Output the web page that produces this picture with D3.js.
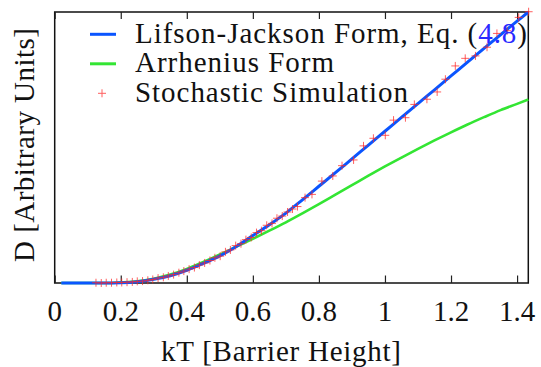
<!DOCTYPE html>
<html><head><meta charset="utf-8">
<script src="https://cdn.jsdelivr.net/npm/d3@7"></script>
<style>body{margin:0;background:#fff;}</style>
</head><body>
<svg id="c" width="541" height="367"></svg>
<script>
// ---- data ----
const kT = [0.02, 0.1, 0.15, 0.2, 0.25, 0.3, 0.35, 0.4, 0.45, 0.5, 0.55, 0.6, 0.65, 0.7, 0.75, 0.8, 0.85, 0.9, 0.95, 1.0, 1.05, 1.1, 1.15, 1.2, 1.25, 1.3, 1.35, 1.4, 1.434];
const lifsonJackson = [0, 0, 0, 0.001, 0.005, 0.014, 0.027, 0.047, 0.072, 0.100, 0.135, 0.175, 0.215, 0.258, 0.307, 0.357, 0.407, 0.458, 0.509, 0.560, 0.611, 0.662, 0.713, 0.764, 0.815, 0.866, 0.916, 0.966, 1.0];
const arrhenius = [0, 0, 0, 0.002, 0.006, 0.016, 0.031, 0.052, 0.078, 0.105, 0.134, 0.163, 0.193, 0.224, 0.257, 0.291, 0.326, 0.361, 0.396, 0.430, 0.463, 0.495, 0.526, 0.556, 0.585, 0.612, 0.638, 0.661, 0.677];
const simKT = [0.125, 0.141, 0.156, 0.172, 0.188, 0.203, 0.219, 0.235, 0.250, 0.266, 0.282, 0.297, 0.313, 0.329, 0.344, 0.360, 0.376, 0.391, 0.407, 0.423, 0.438, 0.454, 0.470, 0.485, 0.501, 0.517, 0.532, 0.548, 0.564, 0.579, 0.595, 0.611, 0.626, 0.642, 0.658, 0.673, 0.689, 0.705, 0.720,
  0.735, 0.758, 0.779, 0.809, 0.842, 0.870, 0.905, 0.935, 0.965, 1.001, 1.026, 1.062, 1.089, 1.127, 1.158, 1.183, 1.213, 1.243, 1.274, 1.309, 1.339, 1.370, 1.405, 1.435];
const simD = [0.001, 0.000, 0.001, 0.001, 0.002, 0.002, 0.003, 0.004, 0.006, 0.007, 0.010, 0.013, 0.018, 0.021, 0.026, 0.031, 0.038, 0.044, 0.051, 0.057, 0.066, 0.074, 0.083, 0.093, 0.099, 0.115, 0.122, 0.138, 0.145, 0.160, 0.168, 0.186, 0.193, 0.213, 0.220, 0.239, 0.247, 0.262, 0.273,
  0.282, 0.315, 0.327, 0.376, 0.395, 0.433, 0.454, 0.506, 0.534, 0.545, 0.601, 0.610, 0.659, 0.678, 0.705, 0.752, 0.801, 0.829, 0.838, 0.870, 0.921, 0.931, 0.980, 1.001];
const xTicks = [0, 0.2, 0.4, 0.6, 0.8, 1.0, 1.2, 1.4];
const xTickLabels = ["0", "0.2", "0.4", "0.6", "0.8", "1", "1.2", "1.4"];
const seriesNames = ["Lifson-Jackson Form, Eq. (", "Arrhenius Form", "Stochastic Simulation"];
const eqRef = "4.8";
const xTitle = "kT [Barrier Height]";
const yTitle = "D [Arbitrary Units]";

// ---- layout ----
const W = 541, H = 367;
const m = {l: 54.7, r: 12.7, t: 12, b: 84};
const FONT = "Liberation Serif";
const INK = "#111";
const FS = 29;
const svg = d3.select("#c");
const x = d3.scaleLinear().domain([0, 1.434]).range([m.l, W - m.r]);
const y = d3.scaleLinear().domain([0, 1]).range([H - m.b, m.t]);

const blue = "#0a55ff", green = "#33e533", red = "#ff2a2a";

// frame
svg.append("rect").attr("x", x(0)).attr("y", y(1)).attr("width", x(1.434) - x(0)).attr("height", y(0) - y(1))
  .attr("fill", "none").attr("stroke", "#111").attr("stroke-width", 1.5);

// bottom & top inward ticks via d3 axes
const axB = d3.axisBottom(x).tickValues(xTicks).tickSize(-7.5).tickFormat("");
const axT = d3.axisTop(x).tickValues(xTicks).tickSize(-7).tickFormat("");
const gB = svg.append("g").attr("transform", `translate(0,${y(0)})`).call(axB);
const gT = svg.append("g").attr("transform", `translate(0,${y(1)})`).call(axT);
[gB, gT].forEach(g => { g.select(".domain").remove(); g.selectAll(".tick line").attr("stroke", "#222").attr("stroke-width", 1.2); });

// tick labels
svg.append("g").selectAll("text").data(xTicks).join("text")
  .attr("x", d => x(d)).attr("y", 320.5).attr("text-anchor", "middle")
  .attr("font-family", FONT).attr("fill", INK).attr("font-size", FS).text((d, i) => xTickLabels[i]);

// axis titles
svg.append("text").attr("x", 281).attr("y", 361).attr("text-anchor", "middle").attr("font-family", FONT).attr("fill", INK)
  .attr("font-size", FS).attr("textLength", 240).attr("lengthAdjust", "spacing").text(xTitle);
svg.append("text").attr("transform", `translate(34,145) rotate(-90)`).attr("text-anchor", "middle").attr("font-family", FONT).attr("fill", INK)
  .attr("font-size", FS).attr("textLength", 234).attr("lengthAdjust", "spacing").text(yTitle);

// curves
const pts = vals => kT.map((k, i) => [k, vals[i]]);
const line = d3.line().x(d => x(d[0])).y(d => y(d[1])).curve(d3.curveMonotoneX);
svg.append("path").attr("d", line(pts(arrhenius))).attr("fill", "none").attr("stroke", green).attr("stroke-width", 2.6);
svg.append("path").attr("d", line(pts(lifsonJackson))).attr("fill", "none").attr("stroke", blue).attr("stroke-width", 3);

// simulation markers
const plus = "M-4,0H4M0,-4V4";
svg.append("g").selectAll("path").data(simKT.map((k, i) => [k, simD[i]])).join("path")
  .attr("transform", d => `translate(${x(d[0])},${y(d[1])})`).attr("d", plus)
  .attr("fill", "none").attr("stroke", red).attr("stroke-width", 1).attr("opacity", 0.75);

// legend
const rows = [34.3, 63.8, 93.3];
const lg = svg.append("g");
lg.append("line").attr("x1", 90).attr("x2", 116).attr("y1", rows[0]).attr("y2", rows[0]).attr("stroke", blue).attr("stroke-width", 3);
lg.append("line").attr("x1", 90).attr("x2", 116).attr("y1", rows[1]).attr("y2", rows[1]).attr("stroke", green).attr("stroke-width", 3);
lg.append("path").attr("transform", `translate(102,${rows[2]})`).attr("d", plus).attr("stroke", red).attr("stroke-width", 1).attr("opacity", 0.75);
const t1 = lg.append("text").attr("x", 135).attr("y", rows[0] + 8.5).attr("font-family", FONT).attr("fill", INK).attr("font-size", FS)
  .attr("textLength", 392).attr("lengthAdjust", "spacing");
t1.append("tspan").text(seriesNames[0]);
t1.append("tspan").attr("fill", "#2a2aff").text(eqRef);
t1.append("tspan").text(")");
lg.append("text").attr("x", 135).attr("y", rows[1] + 8.5).attr("font-family", FONT).attr("fill", INK).attr("font-size", FS)
  .attr("textLength", 199).attr("lengthAdjust", "spacing").text(seriesNames[1]);
lg.append("text").attr("x", 135).attr("y", rows[2] + 8.5).attr("font-family", FONT).attr("fill", INK).attr("font-size", FS)
  .attr("textLength", 273).attr("lengthAdjust", "spacing").text(seriesNames[2]);
</script>
</body></html>
